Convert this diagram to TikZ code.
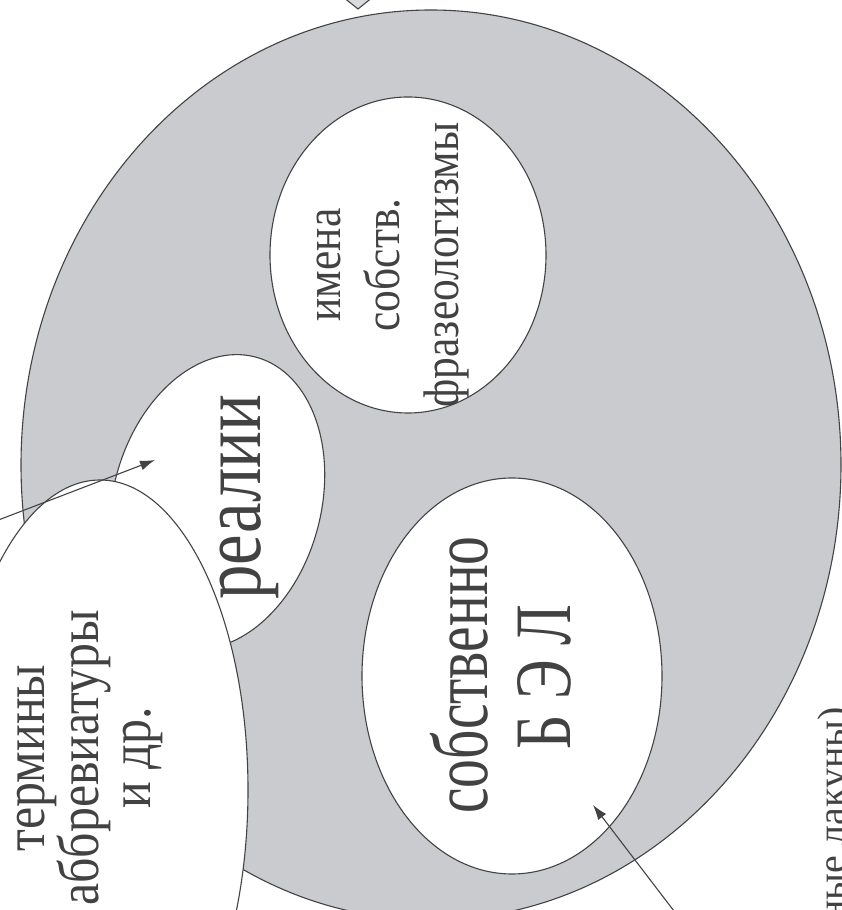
\documentclass[tikz,border=0pt]{standalone}
\usepackage{fontspec}
\setmainfont{Liberation Serif}
\usepackage{tikz}
\usetikzlibrary{calc,positioning,shapes.geometric,arrows.meta}
\definecolor{belGray}{HTML}{C9CBCF}
\definecolor{belLine}{HTML}{434343}
\definecolor{belText}{HTML}{424242}

\begin{document}
\begin{tikzpicture}[x=1pt,y=1pt,
  outer/.style={ellipse,draw=belLine,fill=belGray,line width=1.1pt,inner sep=0pt},
  bubble/.style={ellipse,draw=belLine,fill=white,line width=1.1pt,inner sep=0pt},
  arr/.style={-{Latex[length=15pt,width=10pt]},belLine,line width=1.1pt},
  lbl/.style={rotate=90,text=belText,align=center,inner sep=0pt}]
  \useasboundingbox (0,0) rectangle (842,910);
  \clip (0,0) rectangle (842,910);
  % tip of the shape above, cut by the page
  \draw[belLine,fill=belGray!70,line width=1.1pt] (343,913) -- (358,901) -- (373,913);

  \node[outer,minimum width=820,minimum height=910] (lex) at (431,445) {};
  \node[bubble,minimum width=276,minimum height=316] (imena) at (408,655) {};
  \node[bubble,minimum width=208,minimum height=300,rotate=-15] (realii) at (217,408) {};
  \node[bubble,minimum width=300,minimum height=396] (bel) at (512,234) {};
  \node[bubble,minimum width=296,minimum height=620] (terminy) at (100,120) {};

  \node[lbl,font=\fontsize{50}{59}\selectfont,xscale=0.87] (imenaTxt) at (393,645)
       {имена\\собств.\\фразеологизмы};
  \node[lbl,font=\fontsize{86}{90}\selectfont,xscale=0.8,anchor=base] (realiiTxt) at (260,413) {реалии};
  \node[lbl,font=\fontsize{80}{84}\selectfont,xscale=0.72,anchor=base] (sobTxt) at (487,235) {собственно};
  \node[lbl,font=\fontsize{80}{84}\selectfont,xscale=0.75,anchor=base] (belTxt) at (570,233) {Б Э Л};
  \node[lbl,font=\fontsize{58}{52}\selectfont,xscale=0.86] (terminyTxt) at (90,152)
       {термины\\аббревиатуры\\и др.};
  \node[lbl,font=\fontsize{40}{44}\selectfont,anchor=base east] (lakTxt) at (845,203) {ные лакуны)};

  % arrows coming in from outside the page
  \coordinate (realiiSrc) at (-12,386);
  \coordinate (realiiTip) at ($(realii.center)+(-62,42)$);
  \coordinate (belSrc) at (690,-22);
  \coordinate (belTip) at ($(bel.center)+(81,-129)$);
  \draw[arr] (realiiSrc) -- (realiiTip);
  \draw[arr] (belSrc) -- (belTip);
\end{tikzpicture}
\end{document}
